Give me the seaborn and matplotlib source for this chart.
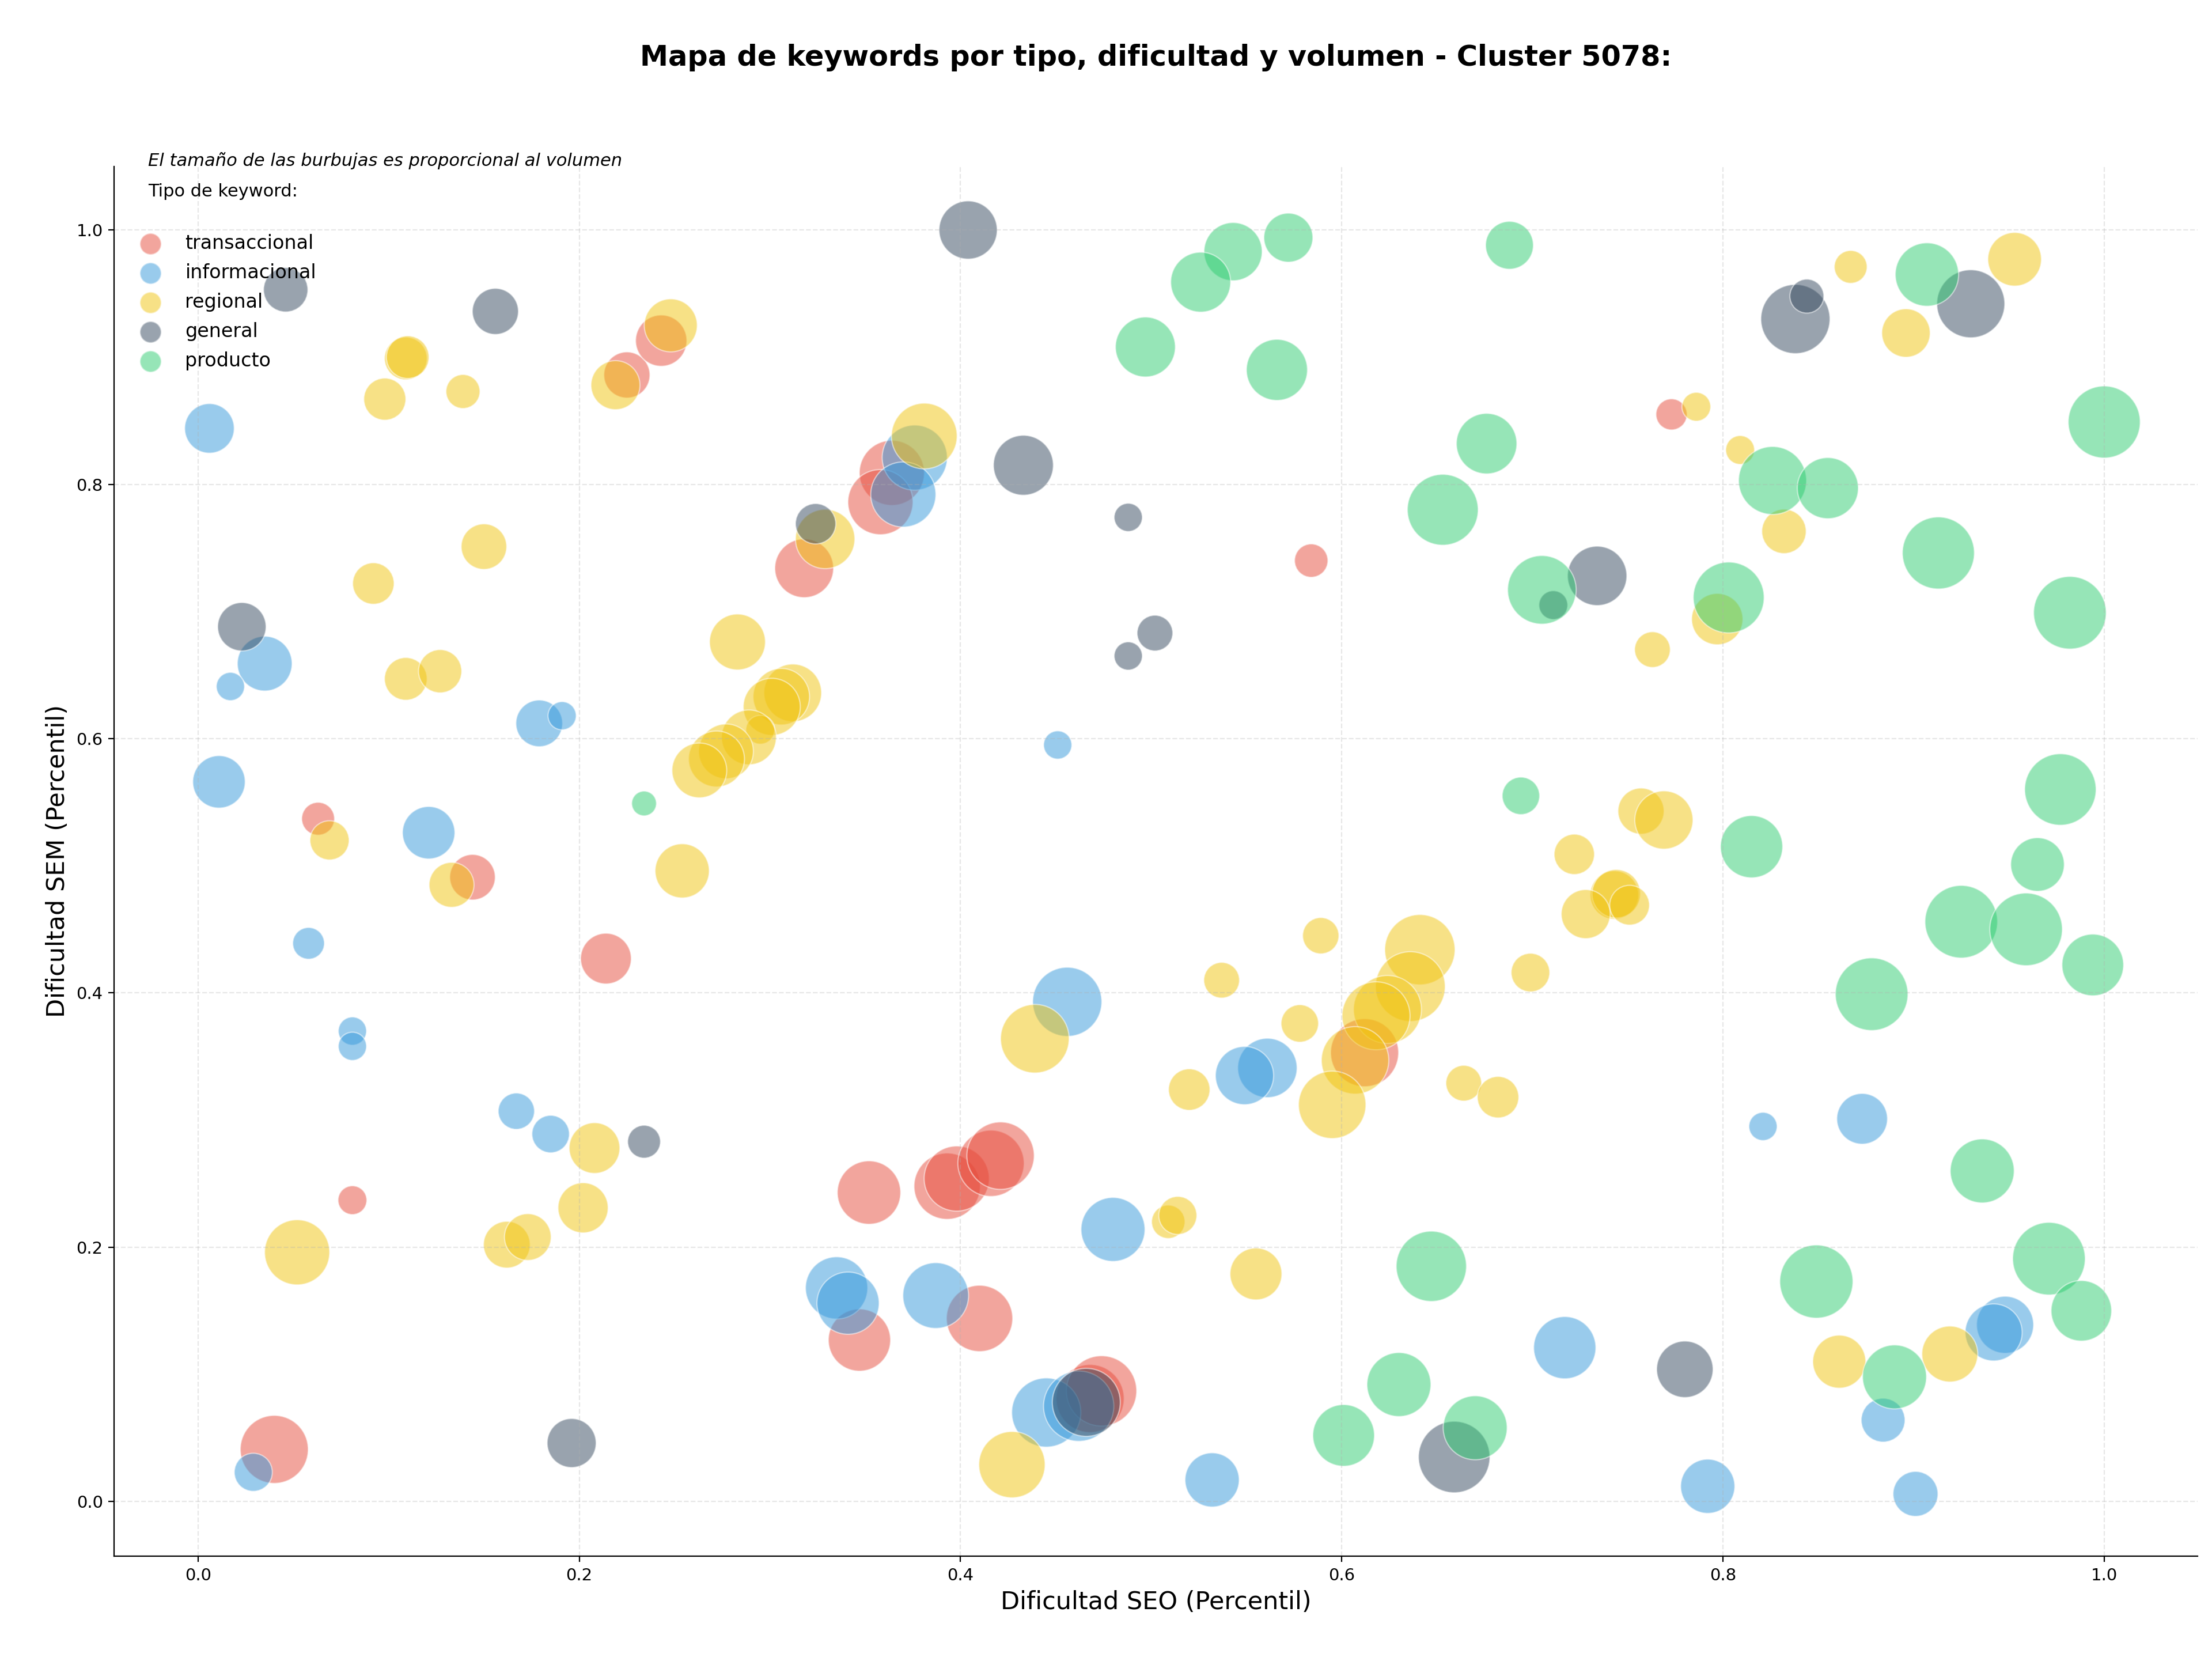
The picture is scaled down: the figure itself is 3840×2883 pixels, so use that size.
import pandas as pd
import matplotlib
matplotlib.use("Agg")
import matplotlib.pyplot as plt
import seaborn as sns

# datos: dificultad SEO (x), dificultad SEM (y), volumen
trans_x = [0.225, 0.243, 0.364, 0.358, 0.318, 0.063, 0.144, 0.214, 0.081, 0.040, 0.352,
           0.393, 0.398, 0.416, 0.421, 0.347, 0.410, 0.468, 0.474, 0.612, 0.584, 0.773]
trans_y = [0.886, 0.913, 0.809, 0.786, 0.734, 0.537, 0.491, 0.427, 0.237, 0.041, 0.243,
           0.248, 0.254, 0.266, 0.272, 0.127, 0.144, 0.081, 0.087, 0.353, 0.740, 0.855]
trans_vol = [640, 792, 1277, 1277, 1040, 325, 624, 774, 250, 1392, 1210,
             1323, 1277, 1323, 1369, 1166, 1323, 1392, 1488, 1392, 336, 292]

info_x = [0.006, 0.035, 0.017, 0.179, 0.191, 0.011, 0.121, 0.058, 0.081, 0.081, 0.167, 0.185,
          0.029, 0.376, 0.370, 0.451, 0.456, 0.480, 0.335, 0.341, 0.387, 0.445, 0.462, 0.561,
          0.549, 0.717, 0.532, 0.821, 0.873, 0.948, 0.942, 0.884, 0.792, 0.901]
info_y = [0.844, 0.659, 0.641, 0.612, 0.618, 0.566, 0.526, 0.439, 0.370, 0.358, 0.307, 0.289,
          0.023, 0.821, 0.792, 0.595, 0.393, 0.214, 0.168, 0.156, 0.162, 0.070, 0.075, 0.341,
          0.335, 0.121, 0.017, 0.295, 0.301, 0.139, 0.133, 0.064, 0.012, 0.006]
info_vol = [740, 903, 240, 656, 240, 828, 828, 303, 240, 240, 397, 423,
            436, 1277, 1277, 240, 1440, 1232, 1166, 1166, 1300, 1440, 1488, 1061,
            1020, 1166, 884, 240, 774, 980, 980, 578, 884, 608]

reg_x = [0.109, 0.110, 0.098, 0.139, 0.219, 0.248, 0.150, 0.092, 0.109, 0.127, 0.069, 0.133,
         0.381, 0.329, 0.283, 0.312, 0.306, 0.301, 0.295, 0.289, 0.277, 0.272, 0.263, 0.254,
         0.208, 0.202, 0.052, 0.162, 0.173, 0.439, 0.427, 0.509, 0.514, 0.537, 0.589, 0.641,
         0.636, 0.624, 0.618, 0.578, 0.607, 0.520, 0.595, 0.664, 0.682, 0.555, 0.699, 0.722,
         0.743, 0.744, 0.751, 0.728, 0.757, 0.769, 0.763, 0.797, 0.786, 0.809, 0.832, 0.867,
         0.896, 0.953, 0.861, 0.919]
reg_y = [0.899, 0.900, 0.867, 0.873, 0.878, 0.925, 0.751, 0.722, 0.647, 0.653, 0.520, 0.485,
         0.838, 0.757, 0.676, 0.636, 0.633, 0.625, 0.607, 0.601, 0.590, 0.584, 0.575, 0.496,
         0.278, 0.231, 0.196, 0.202, 0.208, 0.364, 0.029, 0.220, 0.225, 0.410, 0.445, 0.434,
         0.405, 0.387, 0.382, 0.376, 0.347, 0.324, 0.312, 0.329, 0.318, 0.179, 0.416, 0.509,
         0.477, 0.478, 0.469, 0.462, 0.543, 0.536, 0.670, 0.694, 0.861, 0.827, 0.763, 0.971,
         0.919, 0.977, 0.110, 0.116]
reg_vol = [548, 548, 533, 348, 723, 846, 624, 518, 548, 563, 462, 608,
           1300, 1061, 941, 1000, 960, 980, 250, 903, 903, 941, 903, 884,
           774, 757, 1277, 656, 656, 1416, 1323, 336, 436, 384, 397, 1488,
           1464, 1392, 1392, 423, 1369, 518, 1369, 384, 518, 810, 449, 490,
           706, 706, 476, 723, 640, 1020, 384, 792, 250, 250, 593, 325,
           706, 865, 846, 941]

gen_x = [0.046, 0.156, 0.023, 0.404, 0.433, 0.324, 0.488, 0.502, 0.488, 0.234,
         0.196, 0.466, 0.734, 0.711, 0.838, 0.844, 0.930, 0.780, 0.659]
gen_y = [0.953, 0.936, 0.688, 1.000, 0.815, 0.769, 0.774, 0.683, 0.665, 0.283,
         0.046, 0.078, 0.728, 0.705, 0.930, 0.948, 0.942, 0.104, 0.035]
gen_vol = [593, 640, 706, 1020, 1082, 490, 240, 384, 240, 325,
           723, 1392, 1061, 250, 1440, 348, 1392, 960, 1538]

prod_x = [0.234, 0.497, 0.572, 0.543, 0.526, 0.688, 0.566, 0.676, 0.653, 0.705, 0.694, 0.907,
          0.826, 0.855, 1.000, 0.913, 0.803, 0.982, 0.977, 0.965, 0.815, 0.925, 0.959, 0.994,
          0.878, 0.936, 0.849, 0.971, 0.988, 0.890, 0.647, 0.630, 0.601, 0.670]
prod_y = [0.549, 0.908, 0.994, 0.983, 0.959, 0.988, 0.890, 0.832, 0.780, 0.717, 0.555, 0.965,
          0.803, 0.797, 0.849, 0.746, 0.711, 0.699, 0.560, 0.501, 0.515, 0.456, 0.450, 0.422,
          0.399, 0.260, 0.173, 0.191, 0.150, 0.098, 0.185, 0.092, 0.052, 0.058]
prod_vol = [185, 1082, 723, 1020, 1082, 689, 1124, 1103, 1513, 1416, 423, 1210,
            1392, 1124, 1563, 1563, 1513, 1588, 1538, 865, 1166, 1588, 1588, 1145,
            1588, 1232, 1613, 1588, 1103, 1232, 1488, 1232, 1145, 1232]

tipos = ['transaccional', 'informacional', 'regional', 'general', 'producto']
colores = {'transaccional': '#e74c3c', 'informacional': '#3498db', 'regional': '#f1c40f',
           'general': '#34495e', 'producto': '#2ecc71'}

partes = [(trans_x, trans_y, trans_vol), (info_x, info_y, info_vol), (reg_x, reg_y, reg_vol),
          (gen_x, gen_y, gen_vol), (prod_x, prod_y, prod_vol)]
df = pd.concat([pd.DataFrame({'seo': xs, 'sem': ys, 'volumen': vs, 'tipo': t})
                for t, (xs, ys, vs) in zip(tipos, partes)], ignore_index=True)

fig, ax = plt.subplots(figsize=(19.2, 14.415), dpi=200)
fig.subplots_adjust(left=0.0516, right=0.9935, bottom=0.0631, top=0.8998)

# tamaño de burbuja proporcional al volumen
vmin, vmax = df['volumen'].min(), df['volumen'].max()
k = 1.296
sns.scatterplot(data=df, x='seo', y='sem', hue='tipo', palette=colores, size='volumen',
                sizes=(vmin * k, vmax * k), size_norm=(vmin, vmax), alpha=0.5,
                edgecolor='white', linewidth=0.8, legend=False, ax=ax)

ax.set_xlim(-0.044, 1.049)
ax.set_ylim(-0.043, 1.05)
ax.set_xticks([0, 0.2, 0.4, 0.6, 0.8, 1.0])
ax.set_yticks([0, 0.2, 0.4, 0.6, 0.8, 1.0])
ax.grid(True, linestyle='--', alpha=0.3)
sns.despine(ax=ax)
ax.tick_params(labelsize=10.5)
ax.set_xlabel('Dificultad SEO (Percentil)', fontsize=15.5)
ax.set_ylabel('Dificultad SEM (Percentil)', fontsize=15.5)

fig.suptitle('Mapa de keywords por tipo, dificultad y volumen - Cluster 5078:',
             fontsize=17.8, fontweight='bold', x=0.5226, y=0.9653, va='center')
ax.text(0.0163, 1.004, 'El tamaño de las burbujas es proporcional al volumen',
        transform=ax.transAxes, fontsize=11, style='italic', va='center')
ax.text(0.0163, 0.9818, 'Tipo de keyword:', transform=ax.transAxes, fontsize=11, va='center')

handles = [ax.scatter([], [], s=180, color=colores[t], alpha=0.5, edgecolor='white', label=t)
           for t in tipos]
ax.legend(handles=handles, loc='upper left', frameon=False, fontsize=12,
          labelspacing=0.54, bbox_to_anchor=(0.0, 0.964))

plt.savefig('out.png', dpi=200)
